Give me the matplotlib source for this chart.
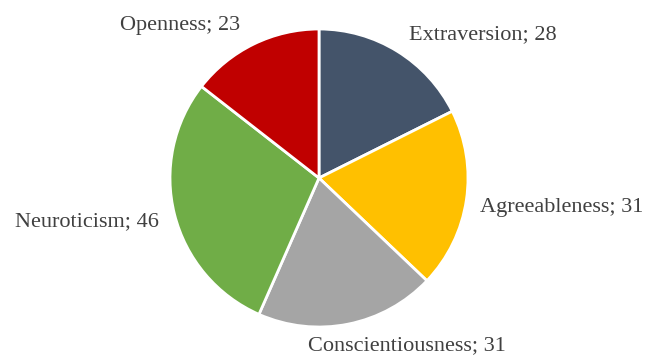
import numpy as np
import matplotlib
matplotlib.use("Agg")
import matplotlib.pyplot as plt

# Big Five trait counts
traits = ["Extraversion", "Agreeableness", "Conscientiousness", "Neuroticism", "Openness"]
counts = [28, 31, 31, 46, 23]
colors = ["#44546A", "#FFC000", "#A5A5A5", "#70AD47", "#C00000"]

# label centres in pie units (radius = 1)
label_xy = [(1.10, 0.965), (1.63, -0.195), (0.59, -1.125), (-1.56, -0.295), (-0.93, 1.025)]

W, H = 648, 356
cx, cy, r = 319, 178, 149

fig = plt.figure(figsize=(W / 100, H / 100), dpi=100)
ax = fig.add_axes([(cx - r) / W, (H - cy - r) / H, 2 * r / W, 2 * r / H])

ax.pie(counts, colors=colors, startangle=90, counterclock=False,
       wedgeprops=dict(edgecolor="white", linewidth=2))
ax.set_xlim(-1, 1)
ax.set_ylim(-1, 1)

for name, n, (x, y) in zip(traits, counts, label_xy):
    ax.text(x, y, f"{name}; {n}", ha="center", va="center", fontsize=16,
            family=["Liberation Serif", "DejaVu Serif"], color="#404040", clip_on=False)

fig.savefig("out.png", dpi=100)
